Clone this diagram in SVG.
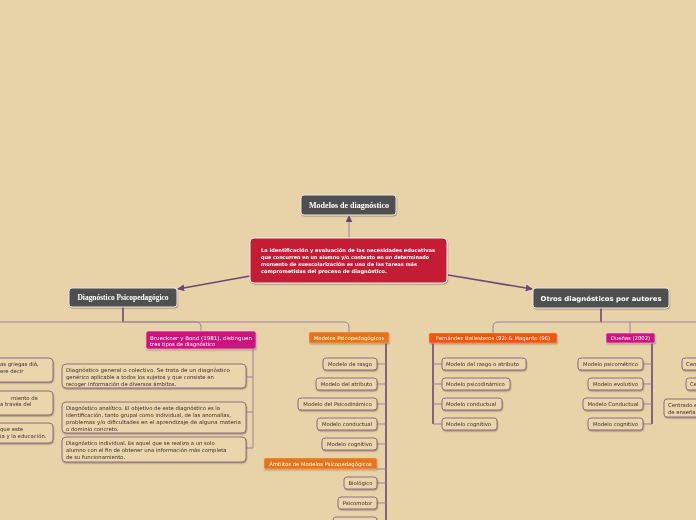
<svg xmlns="http://www.w3.org/2000/svg" width="696" height="520" viewBox="0 0 696 520">
<defs>
<marker id="arr" viewBox="0 0 10 10" refX="9" refY="5" markerWidth="7" markerHeight="7" markerUnits="userSpaceOnUse" orient="auto">
<path d="M0,0 L10,5 L0,10 z" fill="#6B4679"/>
</marker>
<filter id="sh" x="-10%" y="-20%" width="120%" height="160%">
<feDropShadow dx="0.6" dy="1.2" stdDeviation="0.5" flood-color="#5a4a3a" flood-opacity="0.45"/>
</filter>
</defs>
<style>
.dark{fill:#505050;stroke:#e6e6e6;stroke-width:1}
.red{fill:#C51E34;stroke:#f4f0f0;stroke-width:1}
.mag{fill:#C9177E;stroke:#f0d0e0;stroke-width:0.6}
.org{fill:#E3761C;stroke:#f2c090;stroke-width:0.5}
.fer{fill:#EF5410;stroke:#f7b090;stroke-width:0.5}
.sb{fill:#EAD5AC;stroke:#8E6F86;stroke-width:1}
.st{font-family:"DejaVu Sans",Verdana,sans-serif;font-size:5.3px;fill:#3a2c2c}
.wt{font-family:"DejaVu Sans",Verdana,sans-serif;font-size:5.3px;fill:#ffffff}
.serif{font-family:"Liberation Serif","Times New Roman",serif;font-weight:bold;fill:#ffffff}
.cl{fill:none;stroke:#9C81A3;stroke-width:1}
.cd{fill:none;stroke:#6B4679;stroke-width:1.6}
</style>
<rect x="0" y="0" width="696" height="520" fill="#E8D2A7"/>

<g id="connectors">
<path class="cl" d="M349,238 V216" stroke-width="2" marker-end="url(#arr)"/>
<path class="cd" d="M250,276 L178,289" stroke-width="1" marker-end="url(#arr)"/>
<path class="cd" d="M448,275 L532,289" stroke-width="1" marker-end="url(#arr)"/>
<path class="cd" d="M123,307 V322"/>
<path class="cl" d="M0,322 H196 Q201,322 201,327 V331"/>
<path class="cl" d="M123,322 H344 Q349,322 349,327 V332"/>
<path class="cl" d="M253,349 V448 M253,377 H246 M253,412 H246 M253,448 H246"/>
<path class="cd" d="M386,343 V520"/>
<path class="cl" d="M386,364 H377 M386,384 H377 M386,404 H377 M386,424 H377 M386,444 H377 M386,469 H377 M386,483 H377 M386,503 H377"/>
<path class="cd" d="M601,308 V322"/>
<path class="cl" d="M696,322 H498 Q493,322 493,327 V333 M630,322 V333"/>
<path class="cd" d="M433,343 V424"/>
<path class="cl" d="M433,364 H442 M433,384 H442 M433,404 H442 M433,424 H442"/>
<path class="cd" d="M652,343 V424"/>
<path class="cl" d="M652,364 H643 M652,384 H643 M652,404 H643 M652,424 H643"/>
</g>

<g id="modelos-diagnostico" filter="url(#sh)">
<rect class="dark" x="301" y="195" width="95" height="20" rx="3"/>
<text class="serif" x="349" y="207.5" font-size="8" text-anchor="middle" textLength="80" lengthAdjust="spacingAndGlyphs">Modelos de diagnóstico</text>
</g>

<g id="central" filter="url(#sh)">
<rect class="red" x="250" y="238" width="197" height="45" rx="4"/>
<g font-family="'DejaVu Sans',Verdana,sans-serif" font-size="5" font-weight="bold" fill="#ffffff">
<text x="261" y="252" textLength="174" lengthAdjust="spacingAndGlyphs">La identificación y evaluación de las necesidades educativas</text>
<text x="261" y="259" textLength="168" lengthAdjust="spacingAndGlyphs">que concurren en un alumno y/o contexto en un determinado</text>
<text x="261" y="266" textLength="156" lengthAdjust="spacingAndGlyphs">momento de suescolarización es una de las tareas más</text>
<text x="261" y="273" textLength="126" lengthAdjust="spacingAndGlyphs">comprometidas del proceso de diagnóstico.</text>
</g>
</g>

<g id="diag-psico" filter="url(#sh)">
<rect class="dark" x="69" y="288" width="108" height="19" rx="3"/>
<text class="serif" x="123" y="300" font-size="7.5" text-anchor="middle" textLength="91" lengthAdjust="spacingAndGlyphs">Diagnóstico Psicopedagógico</text>
</g>

<g id="otros" filter="url(#sh)">
<rect class="dark" x="533" y="288" width="136" height="20" rx="3"/>
<text x="601" y="300.5" font-family="'DejaVu Sans',Verdana,sans-serif" font-weight="bold" font-size="6.6" fill="#ffffff" text-anchor="middle" textLength="121" lengthAdjust="spacingAndGlyphs">Otros diagnósticos por autores</text>
</g>

<g id="left-cut-1" filter="url(#sh)">
<rect class="sb" x="-150" y="358" width="203" height="24" rx="4"/>
<text class="st" x="0" y="365.5">as griegas diá,</text>
<text class="st" x="0" y="372.5">ere decir</text>
</g>
<g id="left-cut-2" filter="url(#sh)">
<rect class="sb" x="-150" y="391" width="203" height="24" rx="4"/>
<text class="st" x="11" y="399.5">miento de</text>
<text class="st" x="0" y="406">a través del</text>
</g>
<g id="left-cut-3" filter="url(#sh)">
<rect class="sb" x="-150" y="423" width="203" height="20" rx="4"/>
<text class="st" x="0" y="431">que este</text>
<text class="st" x="0" y="438">ia y la educación.</text>
</g>

<g id="brueckner" filter="url(#sh)">
<rect class="mag" x="146" y="331" width="110" height="18" rx="2.5"/>
<text class="wt" x="150" y="339.5" textLength="102" lengthAdjust="spacingAndGlyphs">Brueckner y Bond (1981), distinguen</text>
<text class="wt" x="150" y="345.8">tres tipos de diagnóstico</text>
</g>

<g id="diag-general" filter="url(#sh)">
<rect class="sb" x="62" y="364" width="184" height="24" rx="4"/>
<text class="st" x="66" y="372" textLength="164" lengthAdjust="spacingAndGlyphs">Diagnóstico general o colectivo. Se trata de un diagnóstico</text>
<text class="st" x="66" y="379">genérico aplicable a todos los sujetos y que consiste en</text>
<text class="st" x="66" y="386">recoger información de diversos ámbitos.</text>
</g>

<g id="diag-analitico" filter="url(#sh)">
<rect class="sb" x="62" y="402" width="184" height="31" rx="4"/>
<text class="st" x="66" y="409.5">Diagnóstico analítico. El objetivo de este diagnóstico es la</text>
<text class="st" x="66" y="416.5">identificación, tanto grupal como individual, de las anomalías,</text>
<text class="st" x="66" y="423.5" textLength="175" lengthAdjust="spacingAndGlyphs">problemas y/o dificultades en el aprendizaje de alguna materia</text>
<text class="st" x="66" y="430.5">o dominio concreto.</text>
</g>

<g id="diag-individual" filter="url(#sh)">
<rect class="sb" x="62" y="437" width="184" height="25" rx="4"/>
<text class="st" x="66" y="445">Diagnóstico individual. Es aquel que se realiza a un solo</text>
<text class="st" x="66" y="452">alumno con el fin de obtener una información más completa</text>
<text class="st" x="66" y="459">de su funcionamiento.</text>
</g>

<g id="modelos-psico" filter="url(#sh)">
<rect class="org" x="309" y="332" width="80" height="11" rx="1.5"/>
<text class="wt" x="349" y="339.5" text-anchor="middle">Modelos Psicopedagógicos</text>
</g>

<g id="mp-rasgo" filter="url(#sh)">
<rect class="sb" x="323" y="358" width="54" height="12" rx="3"/>
<text class="st" x="350" y="366" text-anchor="middle">Modelo de rasgo</text>
</g>
<g id="mp-atributo" filter="url(#sh)">
<rect class="sb" x="316" y="378" width="61" height="12" rx="3"/>
<text class="st" x="346.5" y="386" text-anchor="middle">Modelo del atributo</text>
</g>
<g id="mp-psicodinamico" filter="url(#sh)">
<rect class="sb" x="298" y="398" width="79" height="12" rx="3"/>
<text class="st" x="337.5" y="406" text-anchor="middle">Modelo del Psicodinámico</text>
</g>
<g id="mp-conductual" filter="url(#sh)">
<rect class="sb" x="317" y="418" width="60" height="12" rx="3"/>
<text class="st" x="347" y="426" text-anchor="middle">Modelo conductual</text>
</g>
<g id="mp-cognitivo" filter="url(#sh)">
<rect class="sb" x="322" y="438" width="55" height="12" rx="3"/>
<text class="st" x="349.5" y="446" text-anchor="middle">Modelo cognitivo</text>
</g>
<g id="ambitos" filter="url(#sh)">
<rect class="org" x="264" y="458" width="113" height="11" rx="1.5"/>
<text class="wt" x="320.5" y="465.5" text-anchor="middle">Ámbitos de Modelos Psicopedagógicos</text>
</g>
<g id="biologico" filter="url(#sh)">
<rect class="sb" x="344" y="477" width="33" height="12" rx="3"/>
<text class="st" x="360.5" y="485" text-anchor="middle">Biológico</text>
</g>
<g id="psicomotor" filter="url(#sh)">
<rect class="sb" x="338" y="497" width="39" height="12" rx="3"/>
<text class="st" x="357.5" y="505" text-anchor="middle">Psicomotor</text>
</g>
<g id="ambito-cut" filter="url(#sh)">
<rect class="sb" x="333" y="517" width="44" height="12" rx="3"/>
</g>

<g id="fernandez" filter="url(#sh)">
<rect class="fer" x="429" y="333" width="128" height="10" rx="1.5"/>
<text class="wt" x="493" y="340" text-anchor="middle">Fernández Ballesteros (92) &amp; Maganto (96)</text>
</g>
<g id="f-rasgo" filter="url(#sh)">
<rect class="sb" x="442" y="358" width="84" height="12" rx="3"/>
<text class="st" x="446" y="366">Modelo del rasgo o atributo</text>
</g>
<g id="f-psicodinamico" filter="url(#sh)">
<rect class="sb" x="442" y="378" width="68" height="12" rx="3"/>
<text class="st" x="446" y="386">Modelo psicodinámico</text>
</g>
<g id="f-conductual" filter="url(#sh)">
<rect class="sb" x="442" y="398" width="60" height="12" rx="3"/>
<text class="st" x="446" y="406">Modelo conductual</text>
</g>
<g id="f-cognitivo" filter="url(#sh)">
<rect class="sb" x="442" y="418" width="55" height="12" rx="3"/>
<text class="st" x="446" y="426">Modelo cognitivo</text>
</g>

<g id="duenas" filter="url(#sh)">
<rect class="mag" x="606" y="333" width="49" height="10" rx="1.5"/>
<text class="wt" x="630.5" y="340" text-anchor="middle">Dueñas (2002)</text>
</g>
<g id="d-psicometrico" filter="url(#sh)">
<rect class="sb" x="578" y="358" width="65" height="12" rx="3"/>
<text class="st" x="610.5" y="366" text-anchor="middle">Modelo psicométrico</text>
</g>
<g id="d-evolutivo" filter="url(#sh)">
<rect class="sb" x="588" y="378" width="55" height="12" rx="3"/>
<text class="st" x="615.5" y="386" text-anchor="middle">Modelo evolutivo</text>
</g>
<g id="d-conductual" filter="url(#sh)">
<rect class="sb" x="583" y="398" width="60" height="12" rx="3"/>
<text class="st" x="613" y="406" text-anchor="middle">Modelo Conductual</text>
</g>
<g id="d-cognitivo" filter="url(#sh)">
<rect class="sb" x="588" y="418" width="55" height="12" rx="3"/>
<text class="st" x="615.5" y="426" text-anchor="middle">Modelo cognitivo</text>
</g>

<g id="r-cut-1" filter="url(#sh)">
<rect class="sb" x="682" y="358" width="40" height="12" rx="3"/>
<text class="st" x="686" y="366">Cen</text>
</g>
<g id="r-cut-2" filter="url(#sh)">
<rect class="sb" x="686" y="378" width="40" height="12" rx="3"/>
<text class="st" x="690" y="386">Ce</text>
</g>
<g id="r-cut-3" filter="url(#sh)">
<rect class="sb" x="664" y="399" width="60" height="18" rx="3"/>
<text class="st" x="668" y="406.5">Centrado e</text>
<text class="st" x="668" y="413.5">de enseña</text>
</g>
</svg>
